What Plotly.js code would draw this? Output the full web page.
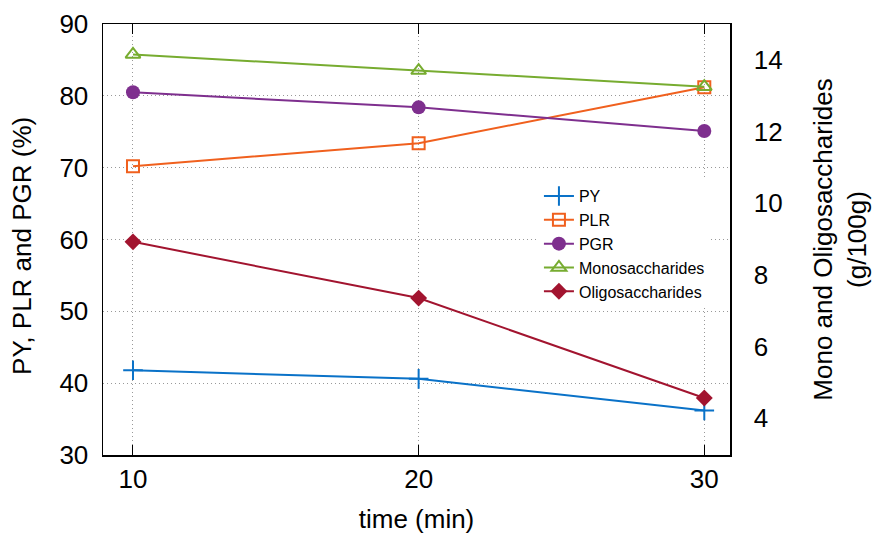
<!DOCTYPE html>
<html><head><meta charset="utf-8">
<script src="https://cdn.plot.ly/plotly-3.0.1.min.js"></script>
<style>body{margin:0;background:#fff}#chart{width:875px;height:534px}</style>
</head><body><div id="chart"></div>
<script>
const time = [10, 20, 30];
const PY = [41.8, 40.6, 36.2];
const PLR = [70.2, 73.4, 81.2];
const PGR = [80.5, 78.4, 75.1];
const Mono = [14.15, 13.7, 13.25];
const Oligo = [8.92, 7.35, 4.56];
const xTicks = [10, 20, 30];
const yTicks = [30, 40, 50, 60, 70, 80, 90];
const y2Ticks = [4, 6, 8, 10, 12, 14];
const yRange = [30, 90];
const y2Range = [2.97, 15.0];

const font = "Liberation Sans, Arial, Helvetica, sans-serif";
function tr(name, y, color, symbol, size, axis, lw) {
  return {x: time, y: y, name: name, type: 'scatter', mode: 'lines+markers',
    yaxis: axis, line: {color: color, width: 2},
    marker: {symbol: symbol, size: size, color: color, line: {color: color, width: lw}}};
}
const data = [
  tr('PY', PY, '#0a72c8', 'cross-thin', 14, 'y', 2),
  tr('PLR', PLR, '#f0601e', 'square-open', 12, 'y', 2),
  tr('PGR', PGR, '#7e2f8e', 'circle', 14, 'y', 0),
  tr('Monosaccharides', Mono, '#77ac30', 'triangle-up-open', 13, 'y2', 2),
  tr('Oligosaccharides', Oligo, '#a2142f', 'diamond', 13, 'y2', 0)
];
const grid = {showgrid: true, gridcolor: '#999', griddash: '1px,3px', gridwidth: 1};
const layout = {
  width: 875, height: 534,
  margin: {l: 103, r: 145, t: 24, b: 79},
  paper_bgcolor: '#fff', plot_bgcolor: '#fff',
  font: {family: font, size: 26, color: '#000'},
  showlegend: true,
  legend: {x: 0.968, y: 0.64, xanchor: 'right', yanchor: 'top', bgcolor: '#fff',
    font: {size: 16, family: font}, tracegroupgap: 0},
  xaxis: Object.assign({range: [8.95, 30.9], tickvals: xTicks, ticktext: xTicks.map(String),
    showline: true, linecolor: '#000', linewidth: 1.5, mirror: 'ticks',
    ticks: 'inside', ticklen: 10, tickcolor: '#000', zeroline: false,
    tickfont: {size: 26}, title: {text: 'time (min)', font: {size: 26}, standoff: 20}}, grid),
  yaxis: Object.assign({range: yRange, tickvals: yTicks, ticktext: yTicks.map(String),
    showline: true, linecolor: '#000', linewidth: 1.5, mirror: true,
    ticks: 'outside', ticklen: 8, tickcolor: 'rgba(0,0,0,0)', zeroline: false,
    tickfont: {size: 26}}, grid),
  yaxis3: {range: yRange, overlaying: 'y', side: 'left', tickvals: yTicks,
    showticklabels: false, showgrid: false, showline: false, zeroline: false,
    ticks: 'inside', ticklen: 10, tickcolor: '#000'},
  yaxis2: {range: y2Range, overlaying: 'y', side: 'right',
    tickvals: y2Ticks, ticktext: y2Ticks.map(String), showgrid: false,
    showline: true, linecolor: '#000', linewidth: 1.5,
    ticks: 'outside', ticklen: 17, tickcolor: 'rgba(0,0,0,0)', zeroline: false,
    tickfont: {size: 26},
    title: {text: 'Mono and Oligosaccharides<br>(g/100g)', font: {size: 26}, standoff: 32}},
  yaxis4: {range: y2Range, overlaying: 'y', side: 'right', tickvals: y2Ticks,
    showticklabels: false, showgrid: false, showline: false, zeroline: false,
    ticks: 'inside', ticklen: 10, tickcolor: '#000'},
  annotations: [{text: 'PY, PLR and PGR (%)', xref: 'paper', yref: 'paper',
    x: (22 - 103) / 627, y: 0.485, xanchor: 'center', yanchor: 'middle',
    textangle: -90, showarrow: false, font: {size: 26}}]
};
Plotly.newPlot('chart', data, layout, {displayModeBar: false, staticPlot: true});
</script></body></html>
